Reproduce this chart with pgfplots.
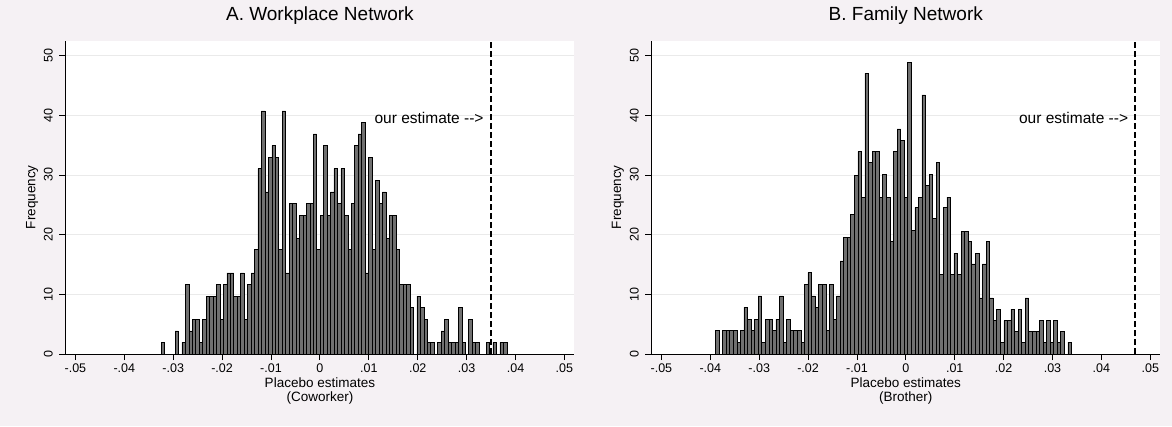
\documentclass[border=0pt]{standalone}
\usepackage{fontspec}
\setmainfont{Liberation Sans}
\usepackage{pgfplots}
\usepackage{pgfplotstable}
\pgfplotsset{compat=1.18}
\definecolor{bgcol}{RGB}{245,241,244}
\definecolor{barfill}{RGB}{112,112,112}
\definecolor{gridcol}{RGB}{234,234,234}

% bin index k (100 equal bins), frequency
\pgfplotstableread{
k f
0 1.94
1 0
2 0
3 0
4 3.88
5 0
6 1.94
7 11.64
8 3.88
9 5.82
10 5.82
11 1.94
12 5.82
13 9.70
14 9.70
15 9.70
16 11.64
17 5.82
18 11.64
19 13.58
20 13.58
21 9.70
22 9.70
23 13.58
24 5.82
25 11.64
26 13.58
27 17.46
28 31.04
29 40.74
30 27.16
31 32.98
32 34.92
33 32.98
34 17.46
35 40.74
36 13.58
37 25.22
38 25.22
39 19.40
40 23.28
41 23.28
42 25.22
43 25.22
44 36.86
45 17.46
46 23.28
47 34.92
48 23.28
49 27.16
50 31.04
51 25.22
52 31.04
53 23.28
54 17.46
55 25.22
56 34.92
57 36.86
58 38.80
59 13.58
60 32.98
61 17.46
62 29.10
63 25.22
64 27.16
65 19.40
66 23.28
67 23.28
68 17.46
69 11.64
70 11.64
71 11.64
72 7.76
73 0
74 9.70
75 7.76
76 5.82
77 1.94
78 1.94
79 0
80 1.94
81 3.88
82 5.82
83 1.94
84 1.94
85 1.94
86 7.76
87 1.94
88 0
89 5.82
90 1.94
91 1.94
92 0
93 0
94 1.94
95 0
96 1.94
97 0
98 1.94
99 1.94
100 0
}\leftdata

\pgfplotstableread{
k f
0 3.90
1 0
2 3.90
3 3.90
4 3.90
5 3.90
6 1.95
7 3.90
8 7.80
9 5.85
10 3.90
11 5.85
12 9.75
13 1.95
14 5.85
15 5.85
16 3.90
17 5.85
18 9.75
19 1.95
20 5.85
21 3.90
22 3.90
23 3.90
24 1.95
25 11.70
26 13.65
27 9.75
28 7.80
29 11.70
30 11.70
31 3.90
32 11.70
33 5.85
34 9.75
35 15.60
36 19.50
37 19.50
38 23.40
39 29.90
40 33.90
41 26.30
42 47.00
43 32.10
44 33.90
45 33.90
46 26.30
47 30.10
48 26.30
49 18.80
50 33.90
51 37.70
52 35.80
53 26.30
54 48.90
55 20.70
56 24.50
57 26.30
58 43.40
59 28.20
60 30.10
61 22.70
62 32.10
63 13.30
64 24.50
65 26.30
66 13.30
67 16.90
68 13.30
69 20.60
70 20.60
71 18.80
72 15.10
73 16.90
74 9.40
75 15.10
76 18.80
77 9.40
78 5.60
79 7.50
80 2.00
81 5.60
82 5.60
83 7.50
84 3.80
85 7.50
86 2.00
87 9.40
88 3.80
89 3.80
90 3.80
91 5.60
92 2.00
93 5.60
94 2.00
95 5.60
96 2.00
97 3.80
98 0
99 2.00
100 0
}\rightdata

\pgfplotsset{
  stata/.style={
    scale only axis, width=509pt, height=313.4pt,
    ymin=0, ymax=52.5,
    axis x line*=bottom, axis y line*=left,
    every outer x axis line/.append style={-},
    every outer y axis line/.append style={-},
    axis line style={-, black, line width=0.8pt},
    tick align=outside, major tick length=6pt,
    tick style={black, line width=0.8pt},
    ytick={0,10,20,30,40,50},
    ymajorgrids, major grid style={gridcol, line width=0.8pt},
    axis background/.style={fill=white},
    xticklabels={-.05,-.04,-.03,-.02,-.01,0,.01,.02,.03,.04,.05},
    ticklabel style={font=\fontsize{12.5}{14}\selectfont},
    /pgf/number format/assume math mode=true,
    yticklabel style={xshift=-3pt, rotate=90, anchor=south},
    ylabel={Frequency},
    ylabel style={at={(axis description cs:-0.0655,0.5)}, anchor=center,
      font=\fontsize{13.5}{16}\selectfont},
    xlabel style={at={(axis description cs:0.5,0)}, anchor=north, yshift=-24pt,
      inner sep=0pt, align=center, font=\fontsize{13.5}{14}\selectfont},
    title style={at={(axis description cs:0.5,1)}, anchor=center, yshift=19pt,
      font=\fontsize{19}{22}\selectfont},
  }
}

\begin{document}
\begin{tikzpicture}
\fill[bgcol] (0,0) rectangle (1172pt,426pt);
\useasboundingbox (0,0) rectangle (1172pt,426pt);

\begin{axis}[stata, at={(65.4pt,72pt)}, anchor=south west,
  xmin=-27.72, xmax=119.57,
  xtick={-24.83,-10.68,3.47,17.62,31.77,45.92,60.08,74.23,88.38,102.53,116.68},
  title={A. Workplace Network},
  xlabel={Placebo estimates\\(Coworker)}]
\addplot[ybar interval, fill=barfill, draw=black, line width=0.55pt] table[x=k, y=f] {\leftdata};
\addplot[black, line width=1.7pt, dash pattern=on 6pt off 3pt] coordinates {(95.49,0) (95.49,52.5)};
\node[anchor=east, font=\fontsize{15.5}{17}\selectfont] at (axis cs:94.3,39.6) {our estimate -{}->};
\end{axis}

\begin{axis}[stata, at={(651.3pt,72pt)}, anchor=south west,
  xmin=-18.01, xmax=124.96,
  xtick={-15.17,-1.43,12.30,26.03,39.76,53.49,67.22,80.95,94.68,108.41,122.15},
  title={B. Family Network},
  xlabel={Placebo estimates\\(Brother)}]
\addplot[ybar interval, fill=barfill, draw=black, line width=0.55pt] table[x=k, y=f] {\rightdata};
\addplot[black, line width=2.4pt, dash pattern=on 6pt off 3pt] coordinates {(117.81,0) (117.81,52.5)};
\node[anchor=east, font=\fontsize{15.5}{17}\selectfont] at (axis cs:116.9,39.6) {our estimate -{}->};
\end{axis}
\end{tikzpicture}
\end{document}
